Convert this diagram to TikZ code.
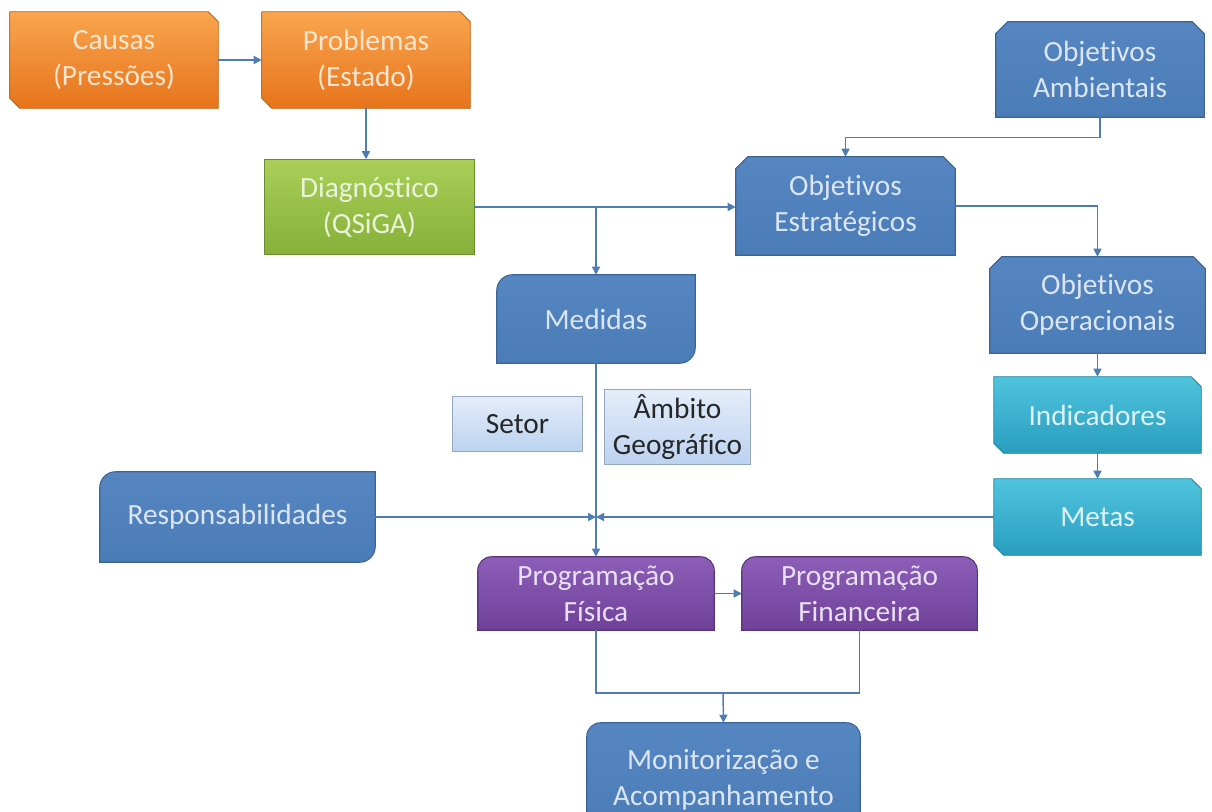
\documentclass[tikz,border=0pt]{standalone}
\usepackage{fontspec}
\setmainfont{Carlito}[Ligatures={NoCommon}]
\usetikzlibrary{arrows.meta,backgrounds,calc}

\definecolor{orTop}{HTML}{F9A54F}
\definecolor{orBot}{HTML}{E6741B}
\definecolor{grTop}{HTML}{A9CF57}
\definecolor{grBot}{HTML}{86B03A}
\definecolor{blTop}{HTML}{5686C2}
\definecolor{blBot}{HTML}{4A7CB8}
\definecolor{cyTop}{HTML}{4FC4DE}
\definecolor{cyBot}{HTML}{2A9DBE}
\definecolor{puTop}{HTML}{8D5EB8}
\definecolor{puBot}{HTML}{6F4199}
\definecolor{lbTop}{HTML}{E4EDFA}
\definecolor{lbBot}{HTML}{BCD2F0}
\definecolor{lnClr}{HTML}{4F7CB2}
\definecolor{txOr}{HTML}{FDE6D0}
\definecolor{txBl}{HTML}{DCE6F2}
\definecolor{txGr}{HTML}{EBF3DA}
\definecolor{txCy}{HTML}{DDF2F7}
\definecolor{txPu}{HTML}{E9E0F2}

\begin{document}
\begin{tikzpicture}[x=0.75pt,y=0.75pt,yscale=-1,
	font=\fontsize{22}{27}\selectfont,
	box/.style 2 args={align=center,inner sep=0pt,minimum width=#1*0.75pt,minimum height=#2*0.75pt},
	conn/.style={draw=lnClr,line width=1.1pt},
	arr/.style={conn,-{Triangle[length=6pt,width=6pt]}}]
	\useasboundingbox (0,0) rectangle (1212,811);
	
	% Text Nodes
	\node[box={208}{96},text=txOr] (causas) at (114,60) {Causas\\(Pressões)};
	\node[box={208}{96},text=txOr] (problemas) at (366,60) {Problemas\\(Estado)};
	\node[box={209}{95},text=txGr] (diag) at (369.5,207) {Diagnóstico\\(QSiGA)};
	\node[box={208}{95},text=txBl] (ambient) at (1100,69.5) {Objetivos\\Ambientais};
	\node[box={219}{98},text=txBl] (estrat) at (845.5,206) {Objetivos\\Estratégicos};
	\node[box={198}{88},text=txBl] (medidas) at (596,319) {Medidas};
	\node[box={215}{96},text=txBl] (operac) at (1097.5,305) {Objetivos\\Operacionais};
	\node[box={207}{76},text=txCy] (indic) at (1097.5,415) {Indicadores};
	\node[box={207}{76},text=txCy] (metas) at (1097.5,517) {Metas};
	\node[box={129}{54},text=black!85] (setor) at (517.5,424) {Setor};
	\node[box={145}{74},text=black!85] (ambito) at (677.5,427) {Âmbito\\Geográfico};
	\node[box={275}{90},text=txBl] (respons) at (237.5,517) {Responsabilidades};
	\node[box={236}{73},text=txPu] (progfis) at (596,593.5) {Programação\\Física};
	\node[box={235}{73},text=txPu] (progfin) at (859.5,593.5) {Programação\\Financeira};
	\node[box={273}{114},text=txBl] (monitor) at (723.5,780) {Monitorização e\\Acompanhamento};
	
	\begin{scope}[on background layer]
	%Shape: Bevel
	\foreach \n/\c in {causas/or,problemas/or,indic/cy,metas/cy}
		\path[top color=\c Top,bottom color=\c Bot,draw=\c Bot!85!black,line width=0.6pt] (\n.north west) -- ($(\n.north east)+(-10,0)$) -- ($(\n.north east)+(0,10)$) -- (\n.south east) -- ($(\n.south west)+(10,0)$) -- ($(\n.south west)+(0,-10)$) -- cycle;
	%Shape: Snip Same Side Corner Rectangle
	\foreach \n in {ambient,estrat,operac}
		\path[top color=blTop,bottom color=blBot,draw=blBot!80!black,line width=0.8pt] (\n.south west) -- ($(\n.north west)+(0,12)$) -- ($(\n.north west)+(12,0)$) -- ($(\n.north east)+(-12,0)$) -- ($(\n.north east)+(0,12)$) -- (\n.south east) -- cycle;
	%Shape: Round Diagonal Corner Rectangle
	\foreach \n in {medidas,respons}
		\path[top color=blTop,bottom color=blBot,draw=blBot!80!black,line width=0.8pt] (\n.south west) -- ($(\n.north west)+(0,16)$) .. controls ($(\n.north west)+(0,7)$) and ($(\n.north west)+(7,0)$) .. ($(\n.north west)+(16,0)$) -- (\n.north east) -- ($(\n.south east)+(0,-16)$) .. controls ($(\n.south east)+(0,-7)$) and ($(\n.south east)+(-7,0)$) .. ($(\n.south east)+(-16,0)$) -- cycle;
	%Shape: Round Same Side Corner Rectangle
	\foreach \n/\c in {progfis/pu,progfin/pu,monitor/bl}
		\path[top color=\c Top,bottom color=\c Bot,draw=\c Bot!80!black,line width=0.8pt] (\n.south west) -- ($(\n.north west)+(0,14)$) .. controls ($(\n.north west)+(0,6)$) and ($(\n.north west)+(6,0)$) .. ($(\n.north west)+(14,0)$) -- ($(\n.north east)+(-14,0)$) .. controls ($(\n.north east)+(-6,0)$) and ($(\n.north east)+(0,6)$) .. ($(\n.north east)+(0,14)$) -- (\n.south east) -- cycle;
	%Shape: Rectangle
	\foreach \n/\c in {diag/gr,setor/lb,ambito/lb}
		\path[top color=\c Top,bottom color=\c Bot,draw=\c Bot!80!black,line width=0.6pt] (\n.north west) rectangle (\n.south east);
	\end{scope}
	
	%Straight Lines
	\draw[arr] (causas.east) -- (problemas.west);
	\draw[arr] (problemas.south) -- (problemas.south |- diag.north);
	\draw[arr] (diag.east) -- (diag.east -| estrat.west);
	\draw[arr] (diag.east -| medidas.north) -- (medidas.north);
	\draw[arr] (ambient.south) -- ++(0,20) -| (estrat.north);
	\draw[arr] (estrat.east) -| (operac.north);
	\draw[arr] (operac.south) -- (indic.north);
	\draw[arr] (indic.south) -- (metas.north);
	\coordinate (juncao) at (medidas.south |- metas.west);
	\draw[arr] (respons.east) -- (juncao);
	\draw[arr] (metas.west) -- (juncao);
	\draw[arr] (medidas.south) -- (progfis.north);
	\draw[arr] (progfis.east) -- (progfin.west);
	\coordinate (barra) at (723,693);
	\draw[conn] (progfis.south) |- (barra) -| (progfin.south);
	\draw[arr] (barra) -- (monitor.north);
	
\end{tikzpicture}
\end{document}
